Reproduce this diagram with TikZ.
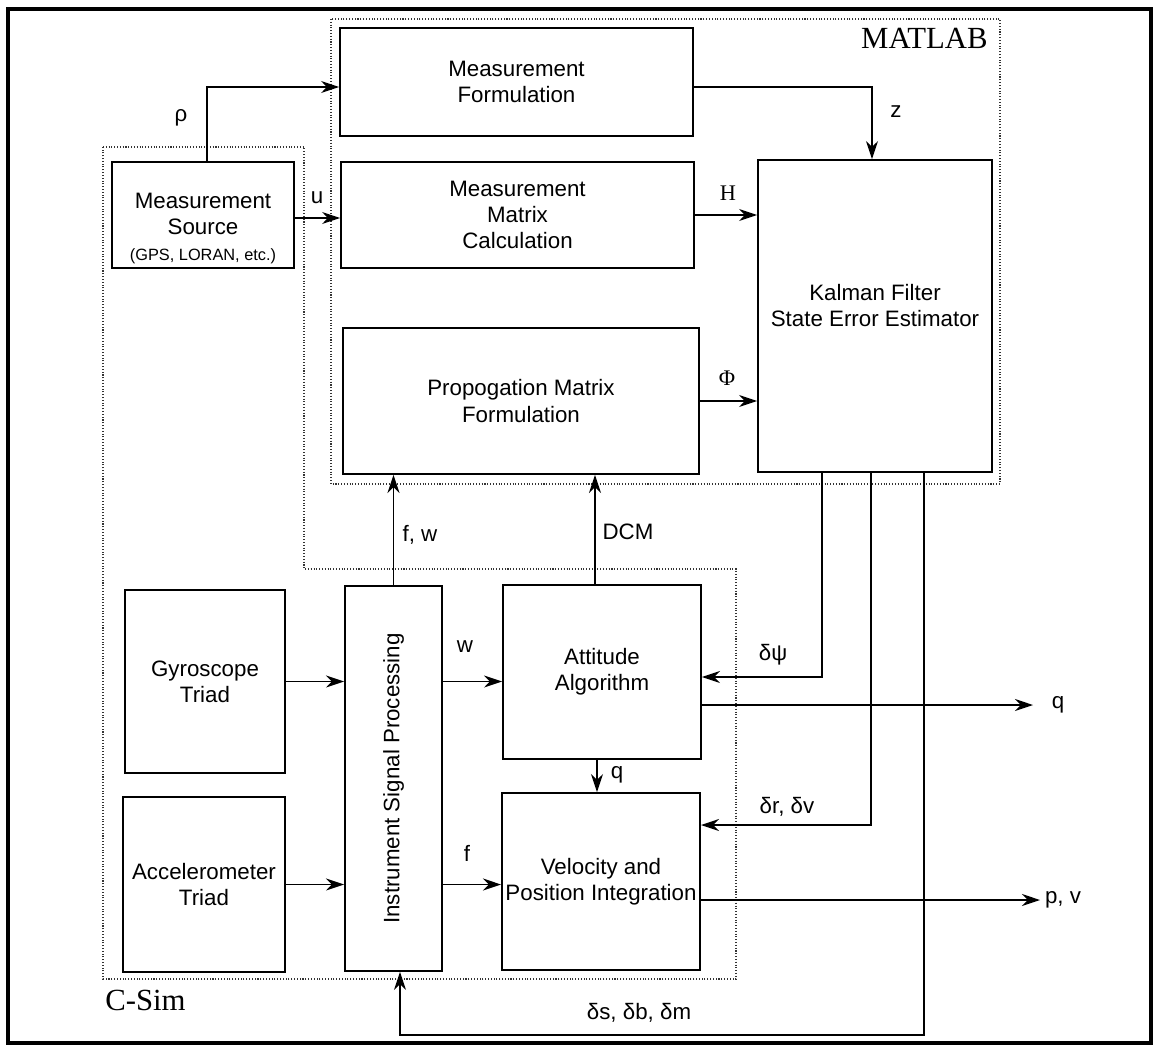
\documentclass[tikz,border=0pt]{standalone}
\usepackage{fontspec}
\setmainfont{Liberation Sans}
\newfontfamily\timesfont{Liberation Serif}
\usetikzlibrary{arrows.meta}

\begin{document}
\begin{tikzpicture}[
    x=0.02cm, y=-0.02cm,
    font=\fontsize{12.7}{15}\selectfont,
    blk/.style={
        rectangle, draw=black, line width=1.1pt,
        align=center, inner sep=2pt
    },
    lbl/.style={inner sep=0pt},
    title/.style={inner sep=0pt, font=\timesfont\fontsize{17.5}{20}\selectfont},
    arr/.style={-{Stealth[length=0.36cm, width=0.24cm]}, line width=0.85pt},
    region/.style={densely dotted, line width=0.6pt, black!80}
]
\useasboundingbox (0,0) rectangle (1153,1045);

% --- Frame and regions ---
\draw[line width=1.8pt] (8,9) rectangle (1151,1043);
\draw[region] (331,19) rectangle (1000,484);
\draw[region] (103,147) -- (304,147) -- (304,569) -- (736,569) -- (736,979) -- (103,979) -- cycle;
\node[title, anchor=base east] (matlab) at (988,48) {MATLAB};
\node[title, anchor=base west] (csim) at (105,1010) {C-Sim};

% --- MATLAB blocks ---
\node[blk, minimum width=7.06cm, minimum height=2.16cm] (mform) at (516.5,82) {Measurement\\Formulation};
\node[blk, minimum width=7.06cm, minimum height=2.12cm] (mmat) at (517.5,215) {Measurement\\Matrix\\Calculation};
\node[blk, minimum width=7.12cm, minimum height=2.92cm] (prop) at (521,401) {Propogation Matrix\\Formulation};
\node[blk, minimum width=4.68cm, minimum height=6.24cm] (kalman) at (875,316) {Kalman Filter\\State Error Estimator\\[-0.1cm]};

% --- C-Sim blocks ---
\node[blk, minimum width=3.64cm, minimum height=2.12cm] (msrc) at (203,215) {\rule{0pt}{0.85cm}Measurement\\Source\\{\fontsize{9.3}{11}\selectfont (GPS, LORAN, etc.)}};
\node[blk, minimum width=3.2cm, minimum height=3.66cm] (gyro) at (205,681.5) {Gyroscope\\Triad};
\node[blk, minimum width=3.24cm, minimum height=3.5cm] (accel) at (204,884.5) {Accelerometer\\Triad};
\node[blk, minimum width=1.94cm, minimum height=7.7cm] (isp) at (393.5,778.5) {\rotatebox{90}{Instrument Signal Processing}};
\node[blk, minimum width=3.96cm, minimum height=3.48cm] (att) at (602,672) {Attitude\\Algorithm};
\node[blk, minimum width=3.92cm, minimum height=3.54cm] (vel) at (601,881.5) {Velocity and\\Position Integration};

% --- Free ends ---
\coordinate (fbk) at (400,1035);
\coordinate (qout) at (1033,705);
\coordinate (pvout) at (1040,900);

% --- Arrows ---
\draw[arr] ([xshift=0.08cm]msrc.north) |- ([yshift=-0.1cm]mform.west);
\draw[arr] ([yshift=-0.06cm]msrc.east) -- ([yshift=-0.06cm]mmat.west);
\draw[arr] ([yshift=-0.1cm]mform.east) -| ([xshift=-0.06cm]kalman.north);
\draw[arr] (mmat.east) -- (mmat.east -| kalman.west);
\draw[arr] (prop.east) -- (prop.east -| kalman.west);
\draw[arr] (isp.north) -- (isp.north |- prop.south);
\draw[arr] ([xshift=-0.14cm]att.north) -- ([xshift=-0.14cm]att.north |- prop.south);
\draw[arr] (gyro.east) -- (gyro.east -| isp.west);
\draw[arr] (accel.east) -- (accel.east -| isp.west);
\draw[arr] (gyro.east -| isp.east) -- (gyro.east -| att.west);
\draw[arr] (accel.east -| isp.east) -- (accel.east -| vel.west);
\draw[arr] ([xshift=-0.1cm]att.south) -- ([xshift=-0.1cm]att.south |- vel.north);
\draw[arr] ([xshift=-1.06cm]kalman.south) |- ([yshift=-0.1cm]att.east);
\draw[arr] ([xshift=-0.08cm]kalman.south) |- ([yshift=1.13cm]vel.east);
\draw[arr] ([xshift=0.98cm]kalman.south) |- (fbk) -- (fbk |- isp.south);
\draw[arr] (att.east |- qout) -- (qout);
\draw[arr] (vel.east |- pvout) -- (pvout);

% --- Signal labels ---
\node[lbl] (lrho) at (181,118) {ρ};
\node[lbl] (lu) at (317,198) {u};
\node[lbl] (lz) at (896,112) {z};
\node[lbl, font=\timesfont\fontsize{12.7}{15}\selectfont] (lh) at (728,193) {H};
\node[lbl, font=\timesfont\fontsize{12.7}{15}\selectfont] (lphi) at (727,378) {Φ};
\node[lbl] (lfw) at (420,535) {f, w};
\node[lbl] (ldcm) at (628,532) {DCM};
\node[lbl] (lw) at (465,647) {w};
\node[lbl] (lf) at (467,853) {f};
\node[lbl] (lq) at (617,775) {q};
\node[lbl] (lpsi) at (773,655) {δψ};
\node[lbl] (ldrv) at (787,807) {δr, δv};
\node[lbl] (ldsbm) at (639,1013) {δs, δb, δm};
\node[lbl] (lqout) at (1058,705) {q};
\node[lbl] (lpv) at (1063,900) {p, v};

\end{tikzpicture}
\end{document}
